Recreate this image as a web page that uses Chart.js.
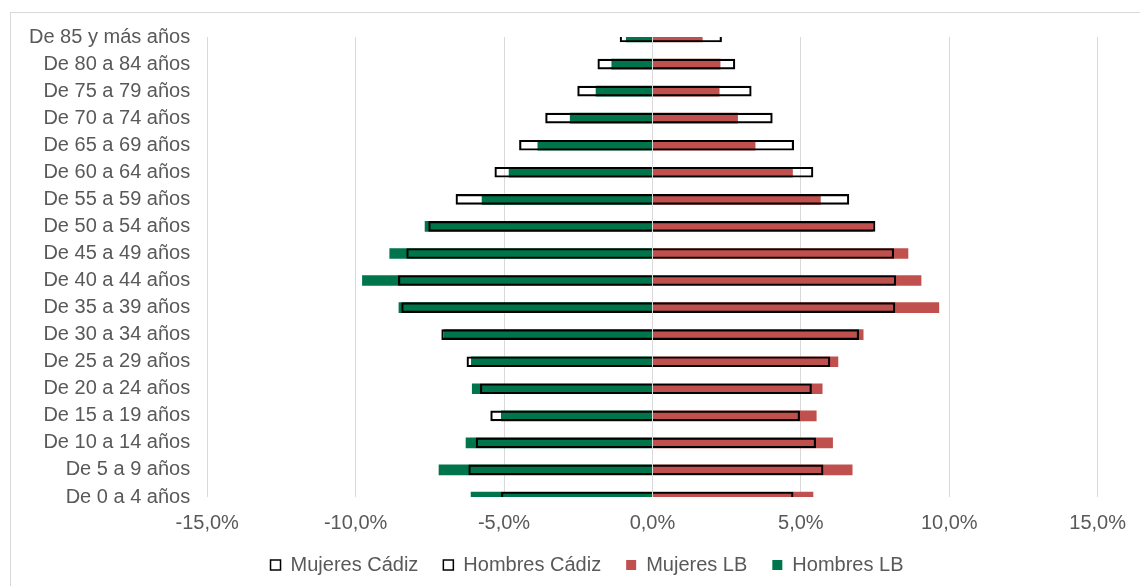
<!DOCTYPE html>
<html>
<head>
<meta charset="utf-8">
<script src="https://cdn.jsdelivr.net/npm/chart.js@4"></script>
<style>
    html, body { margin: 0; padding: 0; background: #fff; overflow: hidden; }
    .frame { position: absolute; left: 10px; top: 12px; width: 1200px; height: 700px; border: 1px solid #D9D9D9; }
    .wrap { position: absolute; left: 0; top: 0; width: 1140px; height: 586px; }
</style>
</head>
<body>
<div class="frame"></div>
<div class="wrap"><canvas id="chart" width="1140" height="586"></canvas></div>
<script>
// age groups, top to bottom
const labels = ['De 85 y más años','De 80 a 84 años','De 75 a 79 años','De 70 a 74 años','De 65 a 69 años','De 60 a 64 años',
    'De 55 a 59 años','De 50 a 54 años','De 45 a 49 años','De 40 a 44 años','De 35 a 39 años','De 30 a 34 años',
    'De 25 a 29 años','De 20 a 24 años','De 15 a 19 años','De 10 a 14 años','De 5 a 9 años','De 0 a 4 años'];

// % of population (men negative)
const mujeresCadiz = [2.33, 2.78, 3.33, 4.04, 4.76, 5.41, 6.62, 7.50, 8.13, 8.20, 8.17, 6.95, 5.98, 5.36, 4.96, 5.50, 5.75, 4.74];
const hombresCadiz = [-1.09, -1.84, -2.52, -3.60, -4.48, -5.31, -6.62, -7.54, -8.28, -8.56, -8.45, -7.10, -6.25, -5.80, -5.45, -5.94, -6.19, -5.09];
const mujeresLB = [1.68, 2.28, 2.25, 2.87, 3.46, 4.72, 5.66, 7.42, 8.61, 9.05, 9.65, 7.10, 6.25, 5.72, 5.52, 6.07, 6.73, 5.41];
const hombresLB = [-0.88, -1.37, -1.90, -2.77, -3.86, -4.83, -5.74, -7.66, -8.85, -9.77, -8.54, -7.02, -6.10, -6.07, -5.09, -6.28, -7.19, -6.11];

const xTicks = [-15, -10, -5, 0, 5, 10, 15];

const txt = '#595959';
const grid = '#D9D9D9';
const font = {family: '"Liberation Sans", Arial, sans-serif', size: 20};

// gray axis line at 0 over the bars
const zeroLine = {
    id: 'zeroLine',
    afterDatasetsDraw(c) {
        const ctx = c.ctx, a = c.chartArea;
        const x = Math.round(c.scales.x.getPixelForValue(0)) + 0.5;
        ctx.save();
        ctx.strokeStyle = grid;
        ctx.lineWidth = 1;
        ctx.beginPath();
        ctx.moveTo(x, a.top);
        ctx.lineTo(x, a.bottom);
        ctx.stroke();
        ctx.restore();
    }
};

// nudge legend to where excel put it
const moveLegend = {
    id: 'moveLegend',
    afterLayout(c) {
        const l = c.legend;
        l.left += 26; l.right += 26;
        l.top -= 19; l.bottom -= 19;
    }
};

const outline = {borderColor: '#000', borderWidth: 1.5, backgroundColor: 'rgba(255,255,255,0)'};

new Chart(document.querySelector('#chart'), {
    type: 'bar',
    data: {
        labels: labels,
        datasets: [
            Object.assign({label: 'Mujeres Cádiz', data: mujeresCadiz}, outline),
            Object.assign({label: 'Hombres Cádiz', data: hombresCadiz}, outline),
            {label: 'Mujeres LB', data: mujeresLB, backgroundColor: '#C0504D', borderWidth: 0},
            {label: 'Hombres LB', data: hombresLB, backgroundColor: '#00744A', borderWidth: 0}
        ]
    },
    options: {
        indexAxis: 'y',
        responsive: false,
        animation: false,
        devicePixelRatio: 1,
        grouped: false,
        barThickness: 10,
        layout: {padding: {left: 12, right: 30, top: 37, bottom: -18}},
        font: font,
        plugins: {
            tooltip: {enabled: false},
            legend: {
                position: 'bottom',
                labels: {color: txt, boxWidth: 10, boxHeight: 10, padding: 25, font: font}
            }
        },
        scales: {
            x: {
                min: -15,
                max: 15,
                afterBuildTicks: s => { s.ticks = xTicks.map(v => ({value: v})); },
                grid: {color: grid, lineWidth: 1, drawTicks: false},
                border: {display: false},
                ticks: {
                    color: txt,
                    padding: 14,
                    maxRotation: 0,
                    font: font,
                    callback: v => v.toFixed(1).replace('.', ',') + '%'
                }
            },
            y: {
                offset: false,
                grid: {display: false, drawTicks: false},
                border: {display: false},
                ticks: {color: txt, padding: 17, autoSkip: false, font: font}
            }
        }
    },
    plugins: [zeroLine, moveLegend]
});
</script>
</body>
</html>
